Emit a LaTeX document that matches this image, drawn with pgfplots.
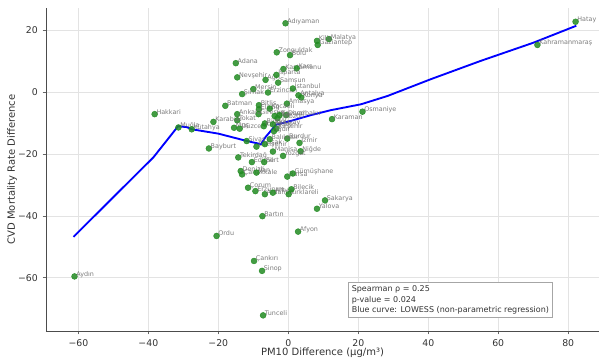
\documentclass[border=0pt]{standalone}
\usepackage{fontspec}
\setmainfont{DejaVu Sans}
\usepackage{pgfplots}
\usepackage{pgfplotstable}
\pgfplotsset{compat=1.18}
\usetikzlibrary{calc}
\definecolor{dotgreen}{RGB}{34,139,34}
\definecolor{lblgray}{RGB}{110,110,110}
\pgfplotstableread{
x y label
-0.8 22.3 Adıyaman
11.6 17.2 Malatya
8.2 16.6 Kilis
8.4 15.3 Gaziantep
-3.3 12.9 Zonguldak
0.5 12.0 Bolu
-15.0 9.4 Adana
-1.4 7.5 Kastamonu
2.4 7.7 Kars
-14.6 4.8 Nevşehir
-6.5 4.0 Ağrı
-3.4 5.6 Isparta
-2.9 3.1 Samsun
-10.0 1.0 Mersin
-13.2 -0.6 Şırnak
-5.8 -0.1 Erzincan
1.3 1.2 İstanbul
2.9 -1.0 Antalya
3.7 -1.7 Konya
-0.4 -3.7 Amasya
-18.0 -4.4 Batman
-8.4 -4.2 Bitlis
-8.4 -5.5 Elazığ
-5.3 -5.3 Kocaeli
-8.5 -7.1 Giresun
-14.6 -7.1 Ankara
-14.6 -9.1 Tokat
-21.4 -9.6 Karabük
-15.5 -11.5 Muş
-13.9 -11.8 Düzce
-38.2 -7.1 Hakkari
-31.4 -11.4 Muğla
-27.6 -12.0 Kütahya
-0.6 -7.4 Diyarbakır
-3.9 -7.7 Rize
-3.1 -8.4 Trabzon
-2.5 -7.4 Kayseri
-6.7 -10.1 Bingöl
-7.0 -11.0 Kırıkkale
-4.4 -10.4 Aksaray
-3.4 -11.8 Kırşehir
-4.1 -12.6 Iğdır
12.5 -8.7 Karaman
21.2 -6.3 Osmaniye
-0.3 -15.0 Burdur
3.2 -16.4 İzmir
3.5 -19.1 Niğde
-1.5 -20.6 Yozgat
-11.9 -15.8 Sivas
-9.1 -17.6 Eskişehir
-6.7 -16.8 Uşak
-5.3 -15.2 Balıkesir
-4.4 -19.2 Manisa
-14.3 -21.1 Tekirdağ
-10.4 -22.6 Edirne
-6.9 -22.6 Siirt
-13.6 -25.5 Denizli
-13.2 -26.6 Çanakkale
-9.1 -26.0 Van
-0.3 -27.3 Bursa
1.3 -26.3 Gümüşhane
-11.5 -30.9 Çorum
-9.4 -32.0 Erzurum
-6.7 -33.0 Ardahan
-4.4 -32.5 Artvin
0.1 -33.0 Kırklareli
0.9 -31.4 Bilecik
10.5 -35.0 Sakarya
8.2 -37.7 Yalova
-7.4 -40.1 Bartın
-20.5 -46.5 Ordu
2.8 -45.1 Afyon
-9.8 -54.6 Çankırı
-7.5 -57.8 Sinop
-7.2 -72.2 Tunceli
-61.1 -59.6 Aydın
82.1 22.8 Hatay
71.2 15.3 Kahramanmaraş
-22.7 -18.2 Bayburt
}\provinces
\begin{document}
\begin{tikzpicture}
\begin{axis}[
  scale only axis, width=414.75pt, height=242.25pt,
  xmin=-69.25, xmax=88.8, ymin=-77.25, ymax=27.25,
  xtick={-60,-40,-20,0,20,40,60,80},
  xticklabels={−60,−40,−20,0,20,40,60,80},
  ytick={-60,-40,-20,0,20},
  yticklabels={−60,−40,−20,0,20},
  axis x line*=bottom, axis y line*=left,
  axis line style={-, black!70, line width=0.6pt},
  tick align=outside, major tick length=2.6pt,
  tick style={black!60, line width=0.5pt},
  grid=major, major grid style={black!11, line width=0.5pt},
  ticklabel style={font=\fontsize{7}{8}\selectfont, text=black!80},
  xlabel={PM10 Difference (µg/m³)},
  ylabel={CVD Mortality Rate Difference},
  label style={font=\fontsize{7.5}{9}\selectfont, text=black!80},
  xlabel style={at={(axis description cs:0.5,-0.066)}, anchor=center},
  ylabel style={at={(axis description cs:-0.0615,0.5)}, anchor=center},
]
\addplot[only marks, mark=*, mark size=2.2pt,
  mark options={draw=dotgreen, fill=dotgreen, opacity=0.85},
  nodes near coords, point meta=explicit symbolic,
  every node near coord/.append style={anchor=base west, inner sep=0pt, xshift=1.2pt,
     font=\fontsize{4.8}{5}\selectfont, text=lblgray, opacity=0.9}]
  table[x=x, y=y, meta=label] {\provinces};
\addplot[blue, line width=1.4pt, no marks] coordinates {
(-61.4,-46.8) (-38.5,-21.0) (-31.5,-11.0) (-29,-11.3) (-27.5,-12.0) (-20,-13.4)
(-13.5,-15.3) (-11,-16.0) (-9,-16.5) (-7.8,-16.8) (-6.5,-14.5) (-5,-12.5)
(-3.5,-10.5) (-1,-9.8) (1,-9.2) (6.5,-7.4) (12.2,-5.8) (20.8,-3.9)
(28.4,-1.2) (40.7,4.2) (54.9,10.1) (70,16) (82.3,21.5)};
\node[draw=black!35, fill=white, anchor=north west, align=left,
  font=\fontsize{6}{7.7}\selectfont, inner sep=2.5pt, line width=0.5pt, text=black!80]
  at (axis cs:17.1,-61.5)
  {Spearman ρ = 0.25\\p-value = 0.024\\Blue curve: LOWESS (non-parametric regression)};
\end{axis}
\pgfresetboundingbox
\path ($(current axis.south west)+(-34.5pt,-21.75pt)$) rectangle ($(current axis.north east)+(0pt,6pt)$);
\end{tikzpicture}
\end{document}
